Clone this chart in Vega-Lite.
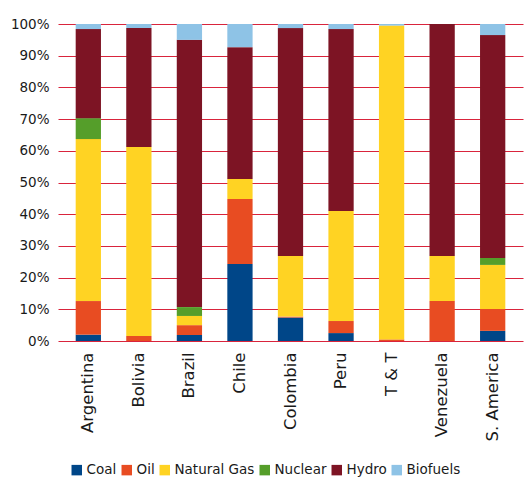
{
  "$schema": "https://vega.github.io/schema/vega-lite/v6.json",
  "width": 465,
  "height": 317,
  "autosize": "none",
  "padding": {"left": 58, "top": 24, "right": 1, "bottom": 137},
  "background": "white",
  "data": {
    "values": [
      {"country": "Argentina", "source": "Coal", "share": 2.0},
      {"country": "Argentina", "source": "Oil", "share": 10.6},
      {"country": "Argentina", "source": "Natural Gas", "share": 51.1},
      {"country": "Argentina", "source": "Nuclear", "share": 6.6},
      {"country": "Argentina", "source": "Hydro", "share": 28.1},
      {"country": "Argentina", "source": "Biofuels", "share": 1.6},
      {"country": "Bolivia", "source": "Oil", "share": 1.6},
      {"country": "Bolivia", "source": "Natural Gas", "share": 59.6},
      {"country": "Bolivia", "source": "Hydro", "share": 37.5},
      {"country": "Bolivia", "source": "Biofuels", "share": 1.3},
      {"country": "Brazil", "source": "Coal", "share": 1.9},
      {"country": "Brazil", "source": "Oil", "share": 3.1},
      {"country": "Brazil", "source": "Natural Gas", "share": 2.9},
      {"country": "Brazil", "source": "Nuclear", "share": 2.8},
      {"country": "Brazil", "source": "Hydro", "share": 84.3},
      {"country": "Brazil", "source": "Biofuels", "share": 5.0},
      {"country": "Chile", "source": "Coal", "share": 24.3},
      {"country": "Chile", "source": "Oil", "share": 20.5},
      {"country": "Chile", "source": "Natural Gas", "share": 6.3},
      {"country": "Chile", "source": "Hydro", "share": 41.6},
      {"country": "Chile", "source": "Biofuels", "share": 7.3},
      {"country": "Colombia", "source": "Coal", "share": 7.4},
      {"country": "Colombia", "source": "Oil", "share": 0.3},
      {"country": "Colombia", "source": "Natural Gas", "share": 19.1},
      {"country": "Colombia", "source": "Hydro", "share": 71.9},
      {"country": "Colombia", "source": "Biofuels", "share": 1.3},
      {"country": "Peru", "source": "Coal", "share": 2.5},
      {"country": "Peru", "source": "Oil", "share": 3.8},
      {"country": "Peru", "source": "Natural Gas", "share": 34.7},
      {"country": "Peru", "source": "Hydro", "share": 57.4},
      {"country": "Peru", "source": "Biofuels", "share": 1.6},
      {"country": "T & T", "source": "Oil", "share": 0.5},
      {"country": "T & T", "source": "Natural Gas", "share": 99.0},
      {"country": "T & T", "source": "Biofuels", "share": 0.5},
      {"country": "Venezuela", "source": "Oil", "share": 12.6},
      {"country": "Venezuela", "source": "Natural Gas", "share": 14.2},
      {"country": "Venezuela", "source": "Hydro", "share": 73.2},
      {"country": "S. America", "source": "Coal", "share": 3.2},
      {"country": "S. America", "source": "Oil", "share": 6.9},
      {"country": "S. America", "source": "Natural Gas", "share": 13.9},
      {"country": "S. America", "source": "Nuclear", "share": 2.2},
      {"country": "S. America", "source": "Hydro", "share": 70.3},
      {"country": "S. America", "source": "Biofuels", "share": 3.5}
    ]
  },
  "transform": [
    {"calculate": "indexof(['Coal','Oil','Natural Gas','Nuclear','Hydro','Biofuels'], datum.source)", "as": "stackOrder"}
  ],
  "mark": {"type": "bar"},
  "encoding": {
    "x": {
      "field": "country",
      "type": "nominal",
      "sort": ["Argentina", "Bolivia", "Brazil", "Chile", "Colombia", "Peru", "T & T", "Venezuela", "S. America"],
      "scale": {"paddingInner": 0.5, "paddingOuter": 0.35},
      "axis": {
        "title": null,
        "labelAngle": -90,
        "labelAlign": "right",
        "labelBaseline": "middle",
        "labelPadding": 11,
        "labelFontSize": 16.5,
        "ticks": false,
        "domain": false,
        "grid": false
      }
    },
    "y": {
      "field": "share",
      "type": "quantitative",
      "stack": "normalize",
      "scale": {"domain": [0, 1], "nice": false},
      "axis": {
        "title": null,
        "format": ".0%",
        "values": [0, 0.1, 0.2, 0.3, 0.4, 0.5, 0.6, 0.7, 0.8, 0.9, 1],
        "ticks": false,
        "domain": false,
        "labelPadding": 9,
        "labelFontSize": 13.5,
        "grid": true,
        "gridColor": "#d9243c",
        "gridWidth": 1,
        "gridOpacity": 1
      }
    },
    "order": {"field": "stackOrder", "type": "quantitative", "sort": "ascending"},
    "color": {
      "field": "source",
      "type": "nominal",
      "scale": {
        "domain": ["Coal", "Oil", "Natural Gas", "Nuclear", "Hydro", "Biofuels"],
        "range": ["#004688", "#e84c22", "#ffd323", "#559e2a", "#7d1424", "#8ec3e6"]
      },
      "legend": {
        "title": null,
        "orient": "none",
        "direction": "horizontal",
        "legendX": 12,
        "legendY": 439,
        "symbolType": "square",
        "symbolSize": 110,
        "symbolStrokeWidth": 0,
        "symbolOpacity": 1,
        "labelFontSize": 13.5,
        "labelOffset": 3,
        "columnPadding": 3
      }
    }
  },
  "config": {
    "font": "DejaVu Sans",
    "view": {"stroke": null},
    "axis": {"labelColor": "#1a1a1a"},
    "legend": {"labelColor": "#1a1a1a"}
  }
}
